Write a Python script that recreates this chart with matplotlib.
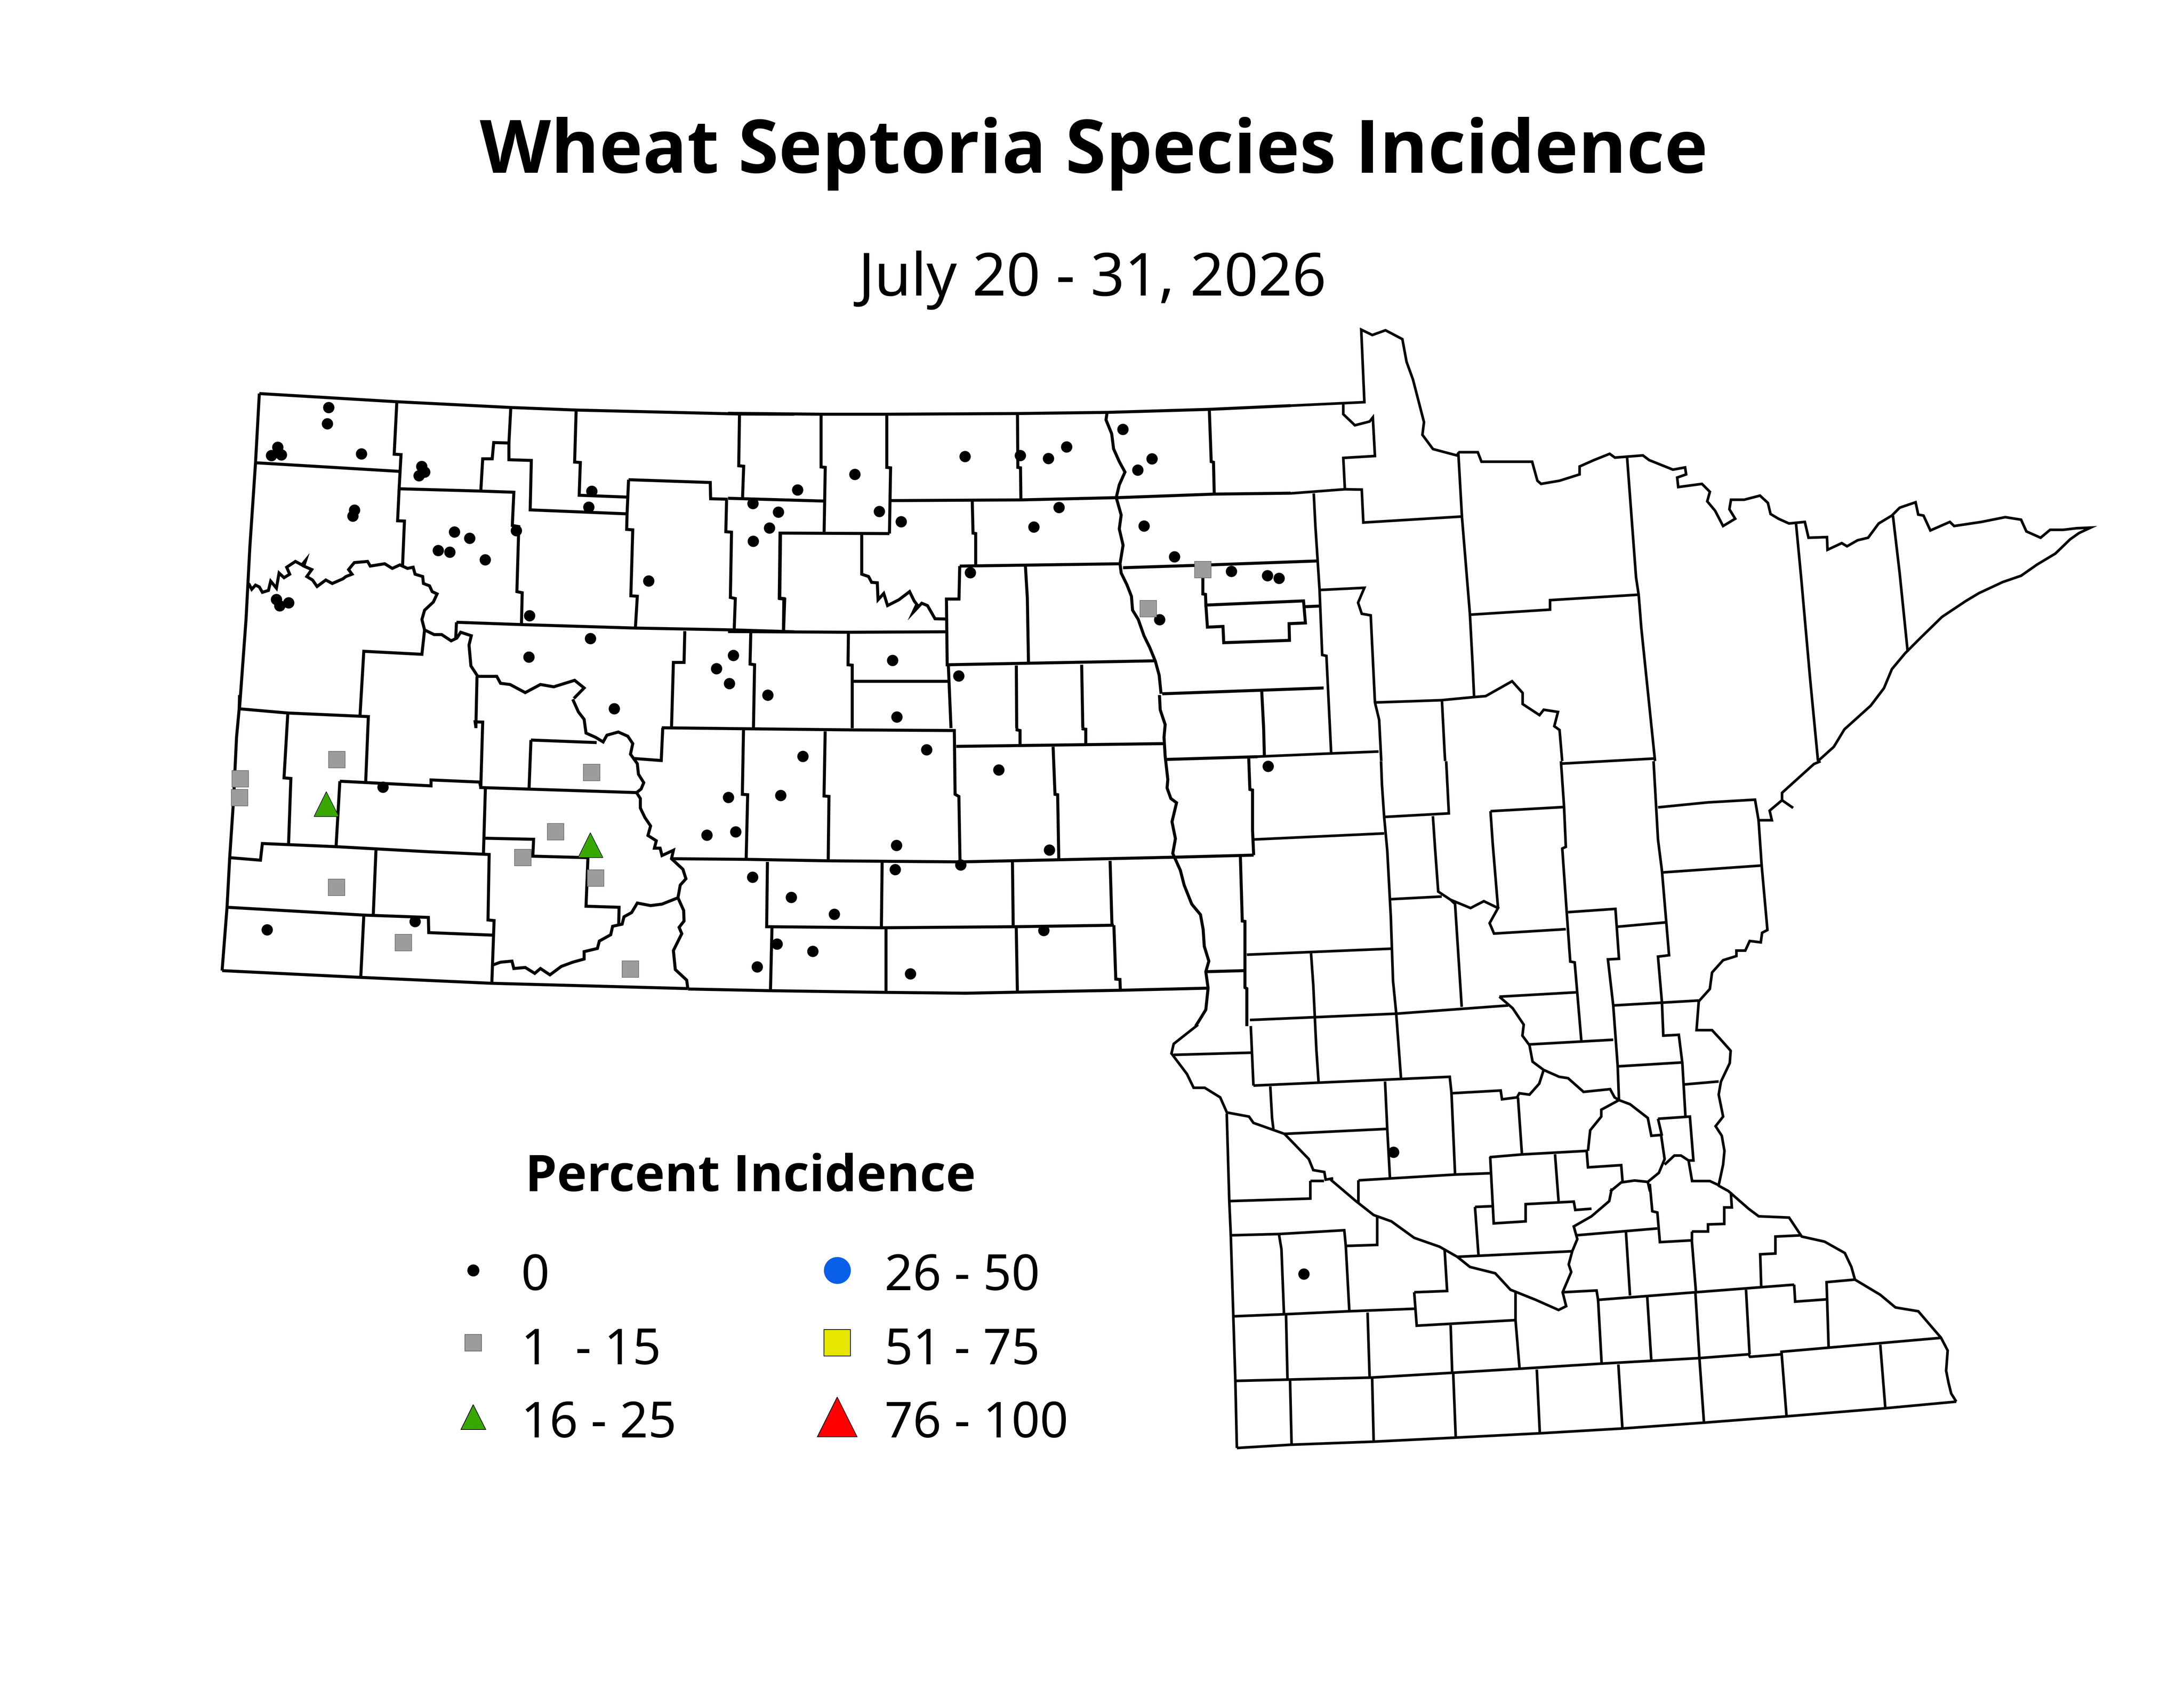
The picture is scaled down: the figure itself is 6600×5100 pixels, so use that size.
import numpy as np
import matplotlib
matplotlib.use('Agg')
import matplotlib.pyplot as plt

plt.rcParams['font.family'] = ['Noto Sans', 'DejaVu Sans']

# survey sites, in image pixels
dots_x = [993, 989, 839, 820, 850, 1092, 1274, 1283, 1266, 1071, 1066, 1373, 1419, 1324, 1359, 1466, 1560, 1788, 1779,
          2275, 2352, 2325, 2276, 1960, 1600, 835, 845, 872, 1784, 1598, 2216, 2165, 2204, 2320, 1856,
          1157, 807, 1254, 2201, 2359, 2136, 2223, 2274, 2391, 2348, 2288,
          2410, 2583, 2657, 2723, 2916, 3083, 3168, 3223, 3393, 3481, 3438, 3200, 3124, 3457, 3549, 2932, 3721, 3830, 3865,
          3504, 2697, 2897, 2710, 2800, 2426, 3018, 2709, 3171, 2521, 2705, 2903, 3154, 2456, 2751, 3832, 4211, 3940]
dots_y = [1231, 1280, 1351, 1376, 1374, 1371, 1409, 1426, 1437, 1541, 1559, 1607, 1626, 1663, 1668, 1691, 1603, 1484, 1532,
          1521, 1547, 1595, 1635, 1755, 1860, 1811, 1830, 1821, 1929, 1985, 1980, 2020, 2065, 2100, 2141,
          2378, 2809, 2784, 2409, 2403, 2523, 2513, 2650, 2711, 2852, 2921,
          1480, 1433, 1545, 1576, 1379, 1376, 1385, 1350, 1297, 1386, 1420, 1533, 1592, 1589, 1682, 1730, 1726, 1739, 1747,
          1872, 1995, 2042, 2166, 2265, 2285, 2326, 2554, 2568, 2762, 2627, 2613, 2811, 2874, 2942, 2315, 3481, 3849]
squares_x = [1018, 726, 724, 1788, 1679, 1580, 1800, 1017, 1219, 1905, 3635, 3470]
squares_y = [2295, 2353, 2410, 2334, 2513, 2591, 2653, 2681, 2848, 2928, 1721, 1839]
triangles_x = [986, 1784]
triangles_y = [2429, 2553]

# legend
legend_labels = ['0', '1  - 15', '16 - 25', '26 - 50', '51 - 75', '76 - 100']
legend_x = [1430, 1430, 1430, 2530, 2530, 2530]
legend_y = [3838, 4057, 4281, 3838, 4057, 4281]
legend_text_x = [1575, 1575, 1575, 2673, 2673, 2673]
legend_text_y = [3859, 4083, 4304, 3859, 4083, 4304]
legend_markers = ['o', 's', '^', 'o', 's', '^']
legend_sizes = [8.2, 12.2, 18, 19, 19, 29]
legend_colors = ['black', '#9c9c9c', '#38a800', '#0a5fe8', '#e6e600', '#ff0000']
legend_edges = ['black', '#666666', 'black', '#0a5fe8', 'black', 'black']

nw_nd = [
    [(160,127),(520,162),(822,187),(994,198),(1424,215),(1568,216)],
    [(160,127),(150,425),(135,790),(130,945),(125,1100),(108,1480)],
    [(150,425),(528,462)],
    [(522,162),(515,388),(533,390),(528,537),(524,675),(542,676),(537,870)],
    [(528,537),(743,547),(830,552),(826,695),(843,700),(838,980),(852,985),(850,1122)],
    [(822,187),(817,340),(777,338),(773,408),(748,408),(743,547)],
    [(817,340),(817,412),(876,415),(873,628),(1128,645)],
    [(994,198),(990,422),(1005,424),(1002,565),(1130,573)],
    [(1132,498),(1347,510),(1348,580),(1393,582)],
    [(1132,498),(1128,645),(1127,712),(1143,714),(1138,998),(1155,1000),(1150,1135)],
    [(1424,215),(1422,438),(1435,440),(1432,578)],
    [(1390,585),(1388,722),(1403,724),(1400,1005),(1413,1010),(1410,1145)],
    [(1532,727),(1530,1010),(1543,1012),(1540,1150)],
    [(1280,1150),(1278,1285),(1250,1285),(1245,1568)],
    [(132,945),(140,970),(150,952),(160,960),(168,983),(184,975),(190,935),(205,965),(212,900),(225,920),(240,905),
     (232,875),(255,850),(272,865),(282,845),(277,870),(298,885),(285,915),(300,930),(312,958),(335,930),(352,945),
     (380,925),(388,915),(404,905),(395,885),(410,855),(445,850),(452,870),(490,860),(510,880),(530,865),(550,880),
     (565,875),(570,905),(590,915),(592,945),(608,955),(615,980),(628,990),(618,1025),(595,1060),(588,1100),(595,1145),
     (620,1165),(640,1165),(665,1192),(680,1180),(690,1155),(718,1170),(712,1210),(717,1300),(735,1345),(785,1345),
     (795,1375),(820,1380),(860,1415),(900,1380),(935,1390),(990,1362),(1015,1395),(988,1440)],
    [(595,1145),(588,1250),(435,1237),(425,1515)],
    [(679,1112),(677,1180)],
    [(679,1112),(850,1122),(1150,1137),(1410,1145),(1568,1153)],
    [(733,1345),(730,1568)],
]
sw_nd = [
    [(108,0),(107,65),(100,200),(92,500),(82,770),(75,1005),(62,1305)],
    [(62,1305),(427,1337),(772,1365),(1288,1390)],
    [(985,20),(1000,80),(1015,115),(1020,180),(1045,200),(1065,222),(1075,190),(1105,175),(1130,195),(1143,230),
     (1137,280),(1155,325),(1158,375),(1172,415),(1165,445),(1153,462),(1163,490),(1163,535),(1175,580),(1190,620),
     (1183,665),(1205,690),(1200,725),(1215,725),(1220,760),(1250,735),(1245,775),(1275,825),(1283,870),(1268,900),
     (1262,960),(1277,1020),(1278,1070),(1265,1100),(1272,1130),(1250,1210),(1255,1300),(1285,1350),(1288,1390)],
    [(107,65),(235,85),(447,102),(440,410)],
    [(235,85),(225,392),(243,395),(237,705)],
    [(730,150),(728,127),(748,128),(743,438),(1155,462)],
    [(875,213),(1048,225)],
    [(875,213),(870,445)],
    [(1143,300),(1218,310),(1222,155)],
    [(82,770),(163,782),(168,703),(362,718),(605,742),(765,755),(762,1065),(778,1068),(772,1365)],
    [(372,408),(362,718)],
    [(372,408),(612,430),(612,402),(740,412),(743,438)],
    [(467,735),(460,1040)],
    [(75,1005),(435,1042),(605,1053),(606,1125),(775,1137)],
    [(435,1045),(427,1337)],
    [(755,445),(750,750)],
    [(753,678),(882,683),(880,763),(1025,770),(1020,1000),(1107,1005),(1106,1090)],
    [(772,1280),(795,1265),(825,1260),(830,1295),(860,1290),(885,1318),(900,1295),(925,1325),(955,1285),(985,1265),
     (1015,1250),(1015,1215),(1050,1200),(1055,1165),(1085,1135),(1090,1095),(1115,1085),(1120,1050),(1140,1030),
     (1155,985),(1190,997),(1220,990),(1262,960)],
]
ne_nd = [
    [(0,212),(245,216),(418,216),(762,213),(1000,208),(1267,195),(1481,179)],
    [(245,216),(245,443),(256,445),(253,725)],
    [(418,216),(418,445),(428,447),(425,730)],
    [(428,588),(771,585),(1030,575),(1280,560),(1481,556)],
    [(0,578),(253,590)],
    [(762,213),(763,445),(770,447),(771,585)],
    [(1267,195),(1272,420),(1278,423),(1280,560)],
    [(998,208),(995,240),(1010,300),(1015,365),(1030,420),(1045,465),(1030,520),(1022,575),(1035,650),(1030,710),
     (1040,780),(1032,860),(1035,900),(1050,950),(1062,1000),(1065,1060),(1080,1100),(1095,1170),(1110,1220),(1125,1280),
     (1135,1340),(1140,1420)],
    [(425,730),(137,728),(135,1008),(147,1010),(146,1150)],
    [(352,733),(352,905),(370,915),(378,940),(393,942),(395,1015),(410,988),(420,1040),(450,1015),(478,980),(490,1020),
     (497,1035),(487,1070),(510,1030),(525,1040),(545,1097),(575,1098)],
    [(643,590),(645,728),(652,730),(652,865)],
    [(610,870),(1035,860)],
    [(1040,877),(1250,866),(1550,848)],
    [(610,870),(608,1012),(575,1012),(577,1295),(1125,1278)],
    [(0,1152),(317,1155),(575,1153)],
    [(783,872),(788,1008),(791,1288)],
    [(1250,920),(1250,990),(1257,992),(1258,1038),(1515,1020),(1520,1115),(1477,1118),(1478,1190),(1305,1200),(1303,1130),
     (1262,1133),(1258,1038)],
    [(1518,1045),(1560,1042)],
    [(1143,1420),(1568,1395)],
    [(1405,1410),(1410,1568),(1412,1690)],
    [(317,1155),(316,1295),(327,1297),(327,1568)],
    [(330,1365),(583,1365)],
    [(60,1155),(58,1292),(70,1295),(67,1568)],
    [(580,1297),(587,1568)],
    [(759,1298),(760,1568)],
    [(931,1295),(934,1568)],
]
se_nd = [
    [(69,1392),(286,1400),(590,1408),(800,1412),(936,1407),(1207,1398),(1437,1388)],
    [(1310,0),(1312,70),(1325,140),(1322,200),(1325,290),(1332,400),(1330,440),(1340,490),(1355,510),(1343,600),(1352,680),
     (1345,750),(1365,830),(1375,900),(1395,990),(1418,1040),(1425,1110),(1428,1190),(1440,1260),(1432,1310),(1438,1388),
     (1432,1490),(1415,1540),(1405,1568)],
    [(0,155),(242,160),(500,165),(770,168),(772,470),(782,480),(785,790)],
    [(215,165),(212,470),(226,472),(222,778)],
    [(430,172),(427,478),(440,480),(438,785)],
    [(775,243),(1320,230)],
    [(935,157),(935,165),(943,168),(943,238)],
    [(1107,157),(1108,160),(1116,162),(1116,235)],
    [(1030,245),(1035,470),(1042,472),(1045,780)],
    [(25,775),(222,778),(438,785),(785,790),(1045,780),(1345,768),(1558,758)],
    [(278,790),(276,1097),(578,1102),(930,1097),(1190,1090)],
    [(580,790),(578,1102)],
    [(923,790),(925,1097)],
    [(1180,785),(1185,1090)],
    [(290,1100),(286,1400)],
    [(590,1105),(590,1408)],
    [(933,1100),(936,1407)],
    [(1190,1090),(1195,1345),(1206,1347),(1207,1398)],
    [(1325,305),(1568,292)],
    [(1545,300),(1548,447),(1555,450),(1555,640),(1558,758)],
    [(1523,765),(1528,1070),(1535,1072),(1535,1385),(1540,1390),(1540,1568)],
    [(1432,1310),(1535,1305)],
]
north_mn = [
    [(0,288),(140,277),(134,48),(155,65),(180,50),(212,78),(220,150),(232,205),(253,340),(250,380),(270,425),(315,445),
     (320,435),(355,435),(362,465),(458,465),(468,525),(475,535),(510,525),(548,505),(548,480),(575,460),(605,440),(615,452),
     (668,445),(680,460),(725,490),(748,483),(750,505),(733,515),(735,545),(780,535),(795,560),(790,590),(805,620),(820,668),
     (843,645),(832,615),(835,585),(860,585),(890,572),(905,595),(910,630),(925,645),(945,660),(975,655),(982,705),(1017,703),
     (1018,743),(1045,722),(1055,732),(1075,713),(1095,705),(1115,660),(1140,635),(1155,610),(1185,593),(1190,632),(1200,635),
     (1213,682),(1250,655),(1258,668),(1310,655),(1355,640),(1385,648),(1395,685),(1422,705),(1440,680),(1465,680),(1490,675),
     (1517,673),(1495,690),(1478,710),(1450,755),(1415,790),(1385,825),(1350,845),(1305,880),(1280,905),(1235,955),(1195,1020),
     (1165,1070),(1140,1120),(1125,1180),(1100,1235),(1050,1310),(1030,1365),(1000,1410)],
    [(100,283),(100,315),(122,350),(150,338),(156,325),(160,447),(100,453),(103,552),(0,565)],
    [(103,552),(135,553),(138,657),(325,638)],
    [(318,435),(325,640),(340,945),(345,1100),(348,1208)],
    [(340,948),(492,932),(492,902),(658,885)],
    [(638,450),(655,830),(660,885),(665,990),(678,1200),(691,1410)],
    [(44,565),(47,665),(55,870),(60,1075),(68,1078),(77,1385)],
    [(55,870),(140,863),(128,910),(135,945),(152,950),(160,1225),(168,1280),(172,1410)],
    [(-63,1396),(77,1386),(167,1380)],
    [(162,1225),(285,1218),(348,1208),(370,1205),(420,1158),(440,1195),(440,1230),(472,1265),(480,1248),(507,1255),(500,1300),
     (510,1312),(515,1410)],
    [(287,1218),(292,1380),(293,1410)],
    [(515,1418),(690,1402)],
    [(958,655),(968,830),(985,1150),(1000,1410)],
    [(1142,635),(1155,820),(1170,1065)],
]
central_mn = [
    [(90,960),(35,1030),(30,1065),(65,1140),(80,1190),(105,1190),(140,1225),(155,1280),(205,1295),(215,1318),(285,1358)],
    [(217,285),(510,263)],
    [(503,0),(505,85),(510,203),(517,325),(525,565),(530,800),(537,915),(548,1155)],
    [(510,203),(656,190),(650,0)],
    [(620,200),(625,320),(632,475),(660,505),(670,520),(685,895)],
    [(522,503),(640,493)],
    [(660,505),(705,535),(735,510),(767,535),(748,590),(758,628),(920,612)],
    [(750,182),(914,167)],
    [(750,182),(755,300),(767,535)],
    [(909,0),(916,165),(920,312),(912,318),(922,550),(930,730),(940,733),(955,1018)],
    [(1118,0),(1128,285),(1137,400),(1153,707),(1128,712),(1137,880),(1140,1000),(1175,997),(1183,1100),(1190,1295)],
    [(1128,168),(1240,150),(1347,140),(1355,215),(1385,215),(1380,180),(1408,142),(1433,170)],
    [(1408,142),(1408,115),(1480,10),(1495,0)],
    [(1355,215),(1362,380),(1375,615),(1363,625),(1360,660),(1335,655),(1325,690),(1305,690),(1305,710),(1275,725),(1250,770),
     (1245,830),(1220,875),(1215,980),(1250,980),(1270,1015),(1292,1055),(1290,1100),(1270,1168),(1265,1215),(1275,1295),(1258,1330),
     (1272,1365),(1278,1420),(1275,1470),(1265,1545)],
    [(1140,405),(1362,380)],
    [(1037,603),(1147,587)],
    [(925,550),(1032,538),(1040,720),(1015,722),(1027,890),(1037,1110),(1040,1235)],
    [(1027,890),(1220,872)],
    [(1037,1112),(1180,1098)],
    [(1187,1178),(1265,1167)],
    [(200,705),(527,683)],
    [(209,965),(215,1182)],
    [(345,700),(350,815),(357,1050),(362,1170)],
    [(207,943),(537,920),(790,890)],
    [(770,858),(945,842)],
    [(770,858),(800,900),(825,960),(822,1000),(838,1035),(845,1095),(870,1125),(905,1150),(925,1155),(960,1205),(1020,1195),
     (1030,1225),(1040,1235),(1065,1250),(1105,1300),(1113,1365),(1135,1362),(1143,1450),(1130,1500),(1105,1533),(1075,1528),
     (1045,1535),(1020,1568)],
    [(838,1032),(1027,1015)],
    [(870,1125),(860,1175),(838,1215),(815,1210),(810,1225),(776,1232),(773,1200),(662,1210),(658,1150),(215,1182)],
    [(35,1070),(212,1062)],
    [(253,1185),(257,1300),(260,1340)],
    [(285,1358),(515,1340)],
    [(512,1167),(517,1340),(523,1517)],
    [(662,1210),(670,1505)],
    [(812,1225),(821,1433)],
    [(748,1443),(821,1433),(967,1420),(970,1480),(1045,1472),(1048,1530)],
    [(1040,1235),(1000,1270),(1000,1295),(975,1345),(970,1420)],
    [(1128,1303),(1200,1295),(1208,1455),(1197,1455),(1180,1437),(1165,1437),(1143,1470)],
    [(1128,1303),(1137,1365)],
    [(1197,1455),(1205,1530),(1245,1530),(1265,1545)],
    [(285,1358),(340,1450),(350,1490),(375,1497),(378,1525),(395,1520)],
    [(1105,1533),(1110,1568)],
]
south_mn = [
    [(70,85),(75,430),(78,565),(83,885),(87,1140),(90,1405)],
    [(90,1405),(198,1392),(360,1380),(522,1364),(688,1347),(851,1328),(1012,1305),(1175,1280),(1370,1248),(1510,1222)],
    [(1510,1222),(1500,1190),(1495,1150),(1490,1100),(1493,1020),(1480,970),(1465,935),(1435,865),(1390,850),(1360,800),
     (1310,740),(1303,690),(1290,635),(1250,590),(1205,570),(1180,495),(1120,490),(1100,460),(1060,390),(1040,368)],
    [(275,345),(325,430),(360,485),(395,510),(440,575),(490,610),(525,650),(550,690),(600,715),(630,780),(680,820),(725,860),
     (740,845),(733,790),(750,710),(745,680),(752,628),(762,580),(755,530),(790,490),(825,430),(830,380)],
    [(235,350),(262,350)],
    [(235,350),(235,420),(75,430)],
    [(78,565),(173,560),(302,545),(305,607),(367,603),(367,490)],
    [(173,560),(178,620),(183,877)],
    [(305,607),(312,865)],
    [(83,885),(183,877),(312,865),(442,855)],
    [(187,877),(190,1140)],
    [(348,870),(352,1125)],
    [(440,790),(505,785),(500,620)],
    [(440,790),(445,922),(640,900)],
    [(512,920),(515,1108)],
    [(640,790),(640,900),(648,1092)],
    [(87,1140),(190,1135),(355,1127),(515,1108),(648,1092),(808,1072),(1003,1050),(1100,1035),(1103,1045),(1165,1035),(1165,1025),(1480,970)],
    [(733,790),(800,783),(803,820),(995,790),(1190,760)],
    [(803,820),(810,1072)],
    [(900,808),(908,1058)],
    [(995,790),(1003,1050),(1012,1305)],
    [(1095,780),(1102,1035)],
    [(1165,1025),(1175,1280)],
    [(1360,997),(1370,1248)],
    [(1258,1005),(1254,750),(1310,740)],
    [(1190,760),(1192,827),(1254,818)],
    [(1125,770),(1123,640),(1153,637),(1153,570),(1205,565)],
    [(195,1140),(198,1392)],
    [(357,1127),(360,1380)],
    [(517,1108),(522,1364)],
    [(682,1095),(688,1347)],
    [(843,1075),(851,1328)],
    [(330,348),(330,440)],
    [(330,348),(522,325),(590,320)],
    [(590,255),(597,518),(660,510),(660,442),(755,432),(758,465),(790,460)],
    [(560,453),(595,450)],
    [(560,453),(567,645)],
    [(525,650),(752,628)],
    [(718,245),(725,430)],
    [(760,565),(920,538)],
    [(858,552),(866,803)],
    [(905,362),(910,470),(920,475),(925,592),(988,585),(996,785)],
    [(988,550),(1020,550),(1020,522),(1052,520),(1052,455),(1067,455),(1065,395)],
    [(988,550),(988,585)],
]


def draw_lines(ax, lines, x0, y0, sx, sy, lw):
    for l in lines:
        pts = np.array(l, dtype=float)
        ax.plot(x0 + pts[:, 0]*sx, y0 + pts[:, 1]*sy, color='black', lw=lw,
                solid_joinstyle='miter', solid_capstyle='butt', zorder=1)


fig = plt.figure(figsize=(22, 17), dpi=300)
ax = fig.add_axes([0, 0, 1, 1])
ax.set_xlim(0, 6600)
ax.set_ylim(5100, 0)
ax.axis('off')

draw_lines(ax, nw_nd, 600, 1100, 1.148, 0.7015, 2.2)
draw_lines(ax, sw_nd, 600, 2100, 1.148, 0.638, 2.2)
draw_lines(ax, ne_nd, 2200, 1100, 1.148, 0.7015, 2.2)
draw_lines(ax, se_nd, 2000, 2100, 1.148, 0.638, 2.2)
draw_lines(ax, north_mn, 3900, 950, 1.594, 0.957, 1.9)
draw_lines(ax, central_mn, 3500, 2300, 1.339, 0.829, 1.9)
draw_lines(ax, south_mn, 3600, 3300, 1.531, 0.765, 1.9)

ax.plot(dots_x, dots_y, ls='none', marker='o', ms=8.2, color='black', mew=0, zorder=3)
ax.plot(squares_x, squares_y, ls='none', marker='s', ms=12.2, mfc='#9c9c9c', mec='#666666', mew=0.4, zorder=3)
ax.plot(triangles_x, triangles_y, ls='none', marker='^', ms=18, mfc='#38a800', mec='black', mew=0.4, zorder=3)

for i in range(len(legend_labels)):
    ax.plot(legend_x[i], legend_y[i], ls='none', marker=legend_markers[i], ms=legend_sizes[i],
            mfc=legend_colors[i], mec=legend_edges[i], mew=0.5)
    ax.text(legend_text_x[i], legend_text_y[i], legend_labels[i], fontsize=36, va='center', ha='left')

bold = ['Open Sans', 'DejaVu Sans']
ax.text(3305, 464, 'Wheat Septoria Species Incidence', fontsize=53.3, family=bold, fontweight='bold', ha='center', va='center')
ax.text(3301, 846, 'July 20 - 31, 2026', fontsize=43.2, ha='center', va='center')
ax.text(2268, 3559, 'Percent Incidence', fontsize=36.7, family=bold, fontweight='bold', ha='center', va='center')

fig.savefig('out.png', dpi=300)
plt.close(fig)
